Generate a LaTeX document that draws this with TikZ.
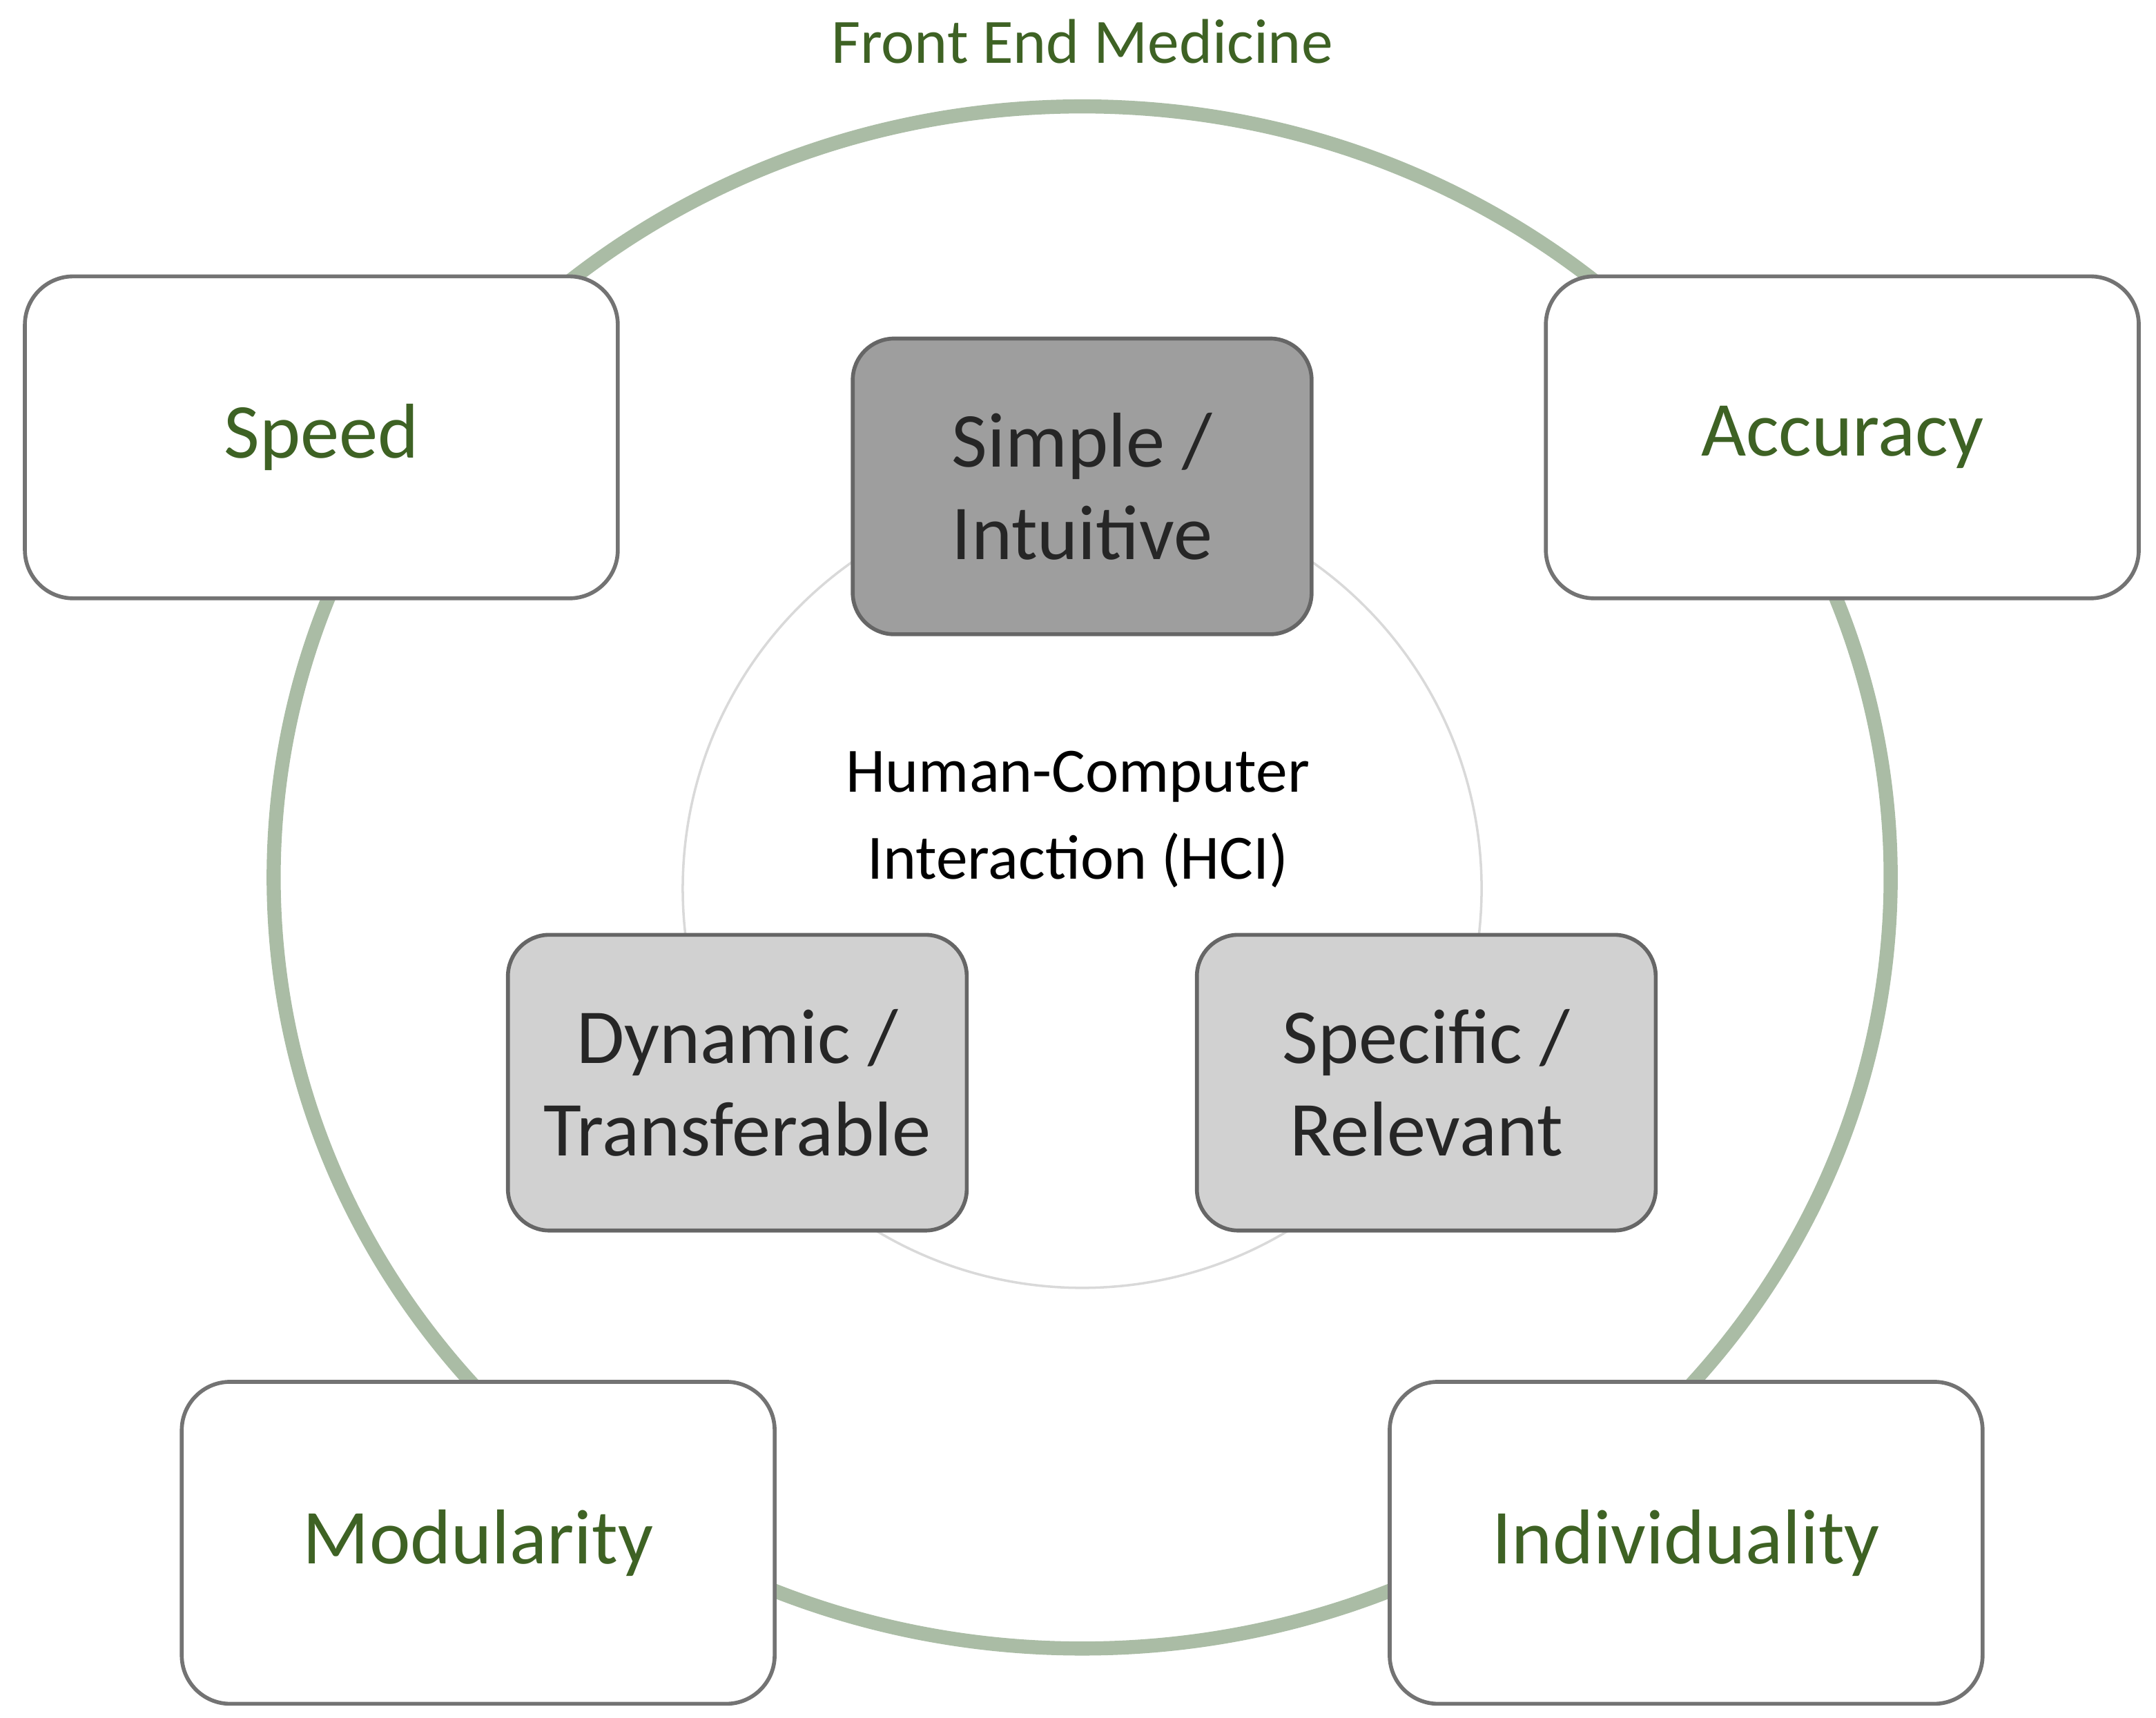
\documentclass[tikz,border=0pt]{standalone}
\usepackage{fontspec}
\setmainfont{Carlito}
\usetikzlibrary{positioning}
\definecolor{ringgreen}{RGB}{170,188,165}
\definecolor{textgreen}{RGB}{62,98,36}
\tikzset{
  outerbox/.style={draw=black!55, fill=white, rounded corners=0.35cm, line width=0.8pt,
    minimum width=4.29cm, minimum height=2.33cm, font=\fontsize{16}{19}\selectfont, text=textgreen},
  innerbox/.style={draw=black!60, rounded corners=0.3cm, line width=0.8pt,
    minimum width=3.32cm, minimum height=2.14cm, align=center,
    font=\fontsize{16}{19}\selectfont, text=black!85}
}
\begin{document}
\begin{tikzpicture}
    \useasboundingbox (0,0) rectangle (15.6,12.43);

    % rings
    \draw[ringgreen, line width=2.9pt] (7.83,6.08) ellipse (5.85 and 5.58);
    \draw[black!15, line width=0.5pt] (7.83,6.0) circle (2.89);

    % title and centre
    \node[text=textgreen, font=\fontsize{13}{16}\selectfont] (title) at (7.83,12.13) {Front End Medicine};
    \node[align=center, font=\fontsize{13}{18}\selectfont] (hci) at (7.8,6.5) {Human-Computer\\Interaction (HCI)};

    % outer boxes
    \node[outerbox] (speed) at (2.325,9.265) {Speed};
    \node[outerbox] (accuracy) at (13.33,9.265) {Accuracy};
    \node[outerbox] (modularity) at (3.46,1.265) {Modularity};
    \node[outerbox] (individuality) at (12.2,1.265) {Individuality};

    % inner boxes
    \node[innerbox, fill=black!38] (simple) at (7.83,8.91) {Simple /\\Intuitive};
    \node[innerbox, fill=black!18] (dynamic) at (5.335,4.595) {Dynamic /\\Transferable};
    \node[innerbox, fill=black!18] (specific) at (10.32,4.595) {Specific /\\Relevant};
\end{tikzpicture}
\end{document}
